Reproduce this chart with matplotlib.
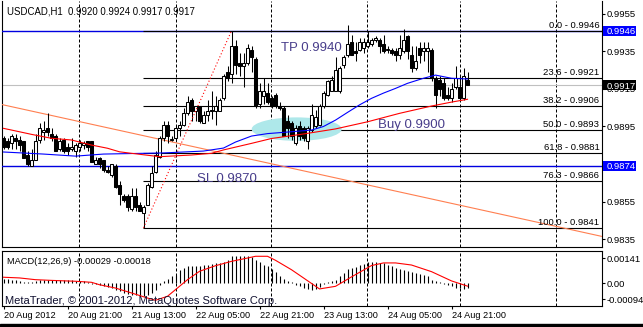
import numpy as np
import matplotlib.pyplot as plt
from matplotlib.patches import Ellipse, Rectangle

plt.rcParams['font.family'] = ['Liberation Sans', 'DejaVu Sans']

# USDCAD H1 candles, bar 0 = 20 Aug 2012 05:00
opens = [0.9889, 0.9887, 0.9886, 0.9889, 0.9888, 0.9887, 0.9880, 0.9874, 0.9877, 0.9888,
         0.9892, 0.9894, 0.9891, 0.9890, 0.9883, 0.9888, 0.9884, 0.9883, 0.9882, 0.9884,
         0.9885, 0.9887, 0.9887, 0.9875, 0.9878, 0.9877, 0.9872, 0.9869, 0.9874, 0.9864,
         0.9858, 0.9858, 0.9851, 0.9858, 0.9853, 0.9849, 0.9853, 0.9863, 0.9871, 0.9879,
         0.9889, 0.9896, 0.9888, 0.9889, 0.9894, 0.9896, 0.9902, 0.9909, 0.9903, 0.9906,
         0.9897, 0.9901, 0.9904, 0.9903, 0.9903, 0.9910, 0.9924, 0.9923, 0.9938, 0.9929,
         0.9927, 0.9929, 0.9936, 0.9931, 0.9907, 0.9911, 0.9913, 0.9910, 0.9912, 0.9906,
         0.9905, 0.9898, 0.9897, 0.9886, 0.9895, 0.9894, 0.9887, 0.9893, 0.9895, 0.9896,
         0.9906, 0.9912, 0.9914, 0.9914, 0.9914, 0.9928, 0.9933, 0.9940, 0.9935, 0.9936,
         0.9937, 0.9938, 0.9939, 0.9941, 0.9941, 0.9939, 0.9936, 0.9936, 0.9935, 0.9933,
         0.9935, 0.9943, 0.9933, 0.9926, 0.9937, 0.9935, 0.9935, 0.9936, 0.9921, 0.9920,
         0.9918, 0.9912, 0.9910, 0.9916, 0.9916, 0.9910, 0.9920]
highs = [0.9890, 0.9889, 0.9891, 0.9891, 0.9890, 0.9887, 0.9882, 0.9883, 0.9891, 0.9897,
         0.9898, 0.9902, 0.9894, 0.9891, 0.9889, 0.9889, 0.9886, 0.9889, 0.9886, 0.9888,
         0.9887, 0.9887, 0.9887, 0.9879, 0.9879, 0.9877, 0.9874, 0.9875, 0.9875, 0.9866,
         0.9859, 0.9859, 0.9862, 0.9862, 0.9855, 0.9853, 0.9865, 0.9874, 0.9882, 0.9890,
         0.9898, 0.9898, 0.9890, 0.9896, 0.9898, 0.9905, 0.9911, 0.9910, 0.9906, 0.9906,
         0.9903, 0.9909, 0.9914, 0.9911, 0.9910, 0.9923, 0.9927, 0.9946, 0.9941, 0.9934,
         0.9934, 0.9939, 0.9938, 0.9932, 0.9918, 0.9921, 0.9918, 0.9911, 0.9913, 0.9908,
         0.9906, 0.9901, 0.9898, 0.9896, 0.9898, 0.9895, 0.9895, 0.9907, 0.9904, 0.9907,
         0.9914, 0.9920, 0.9922, 0.9932, 0.9927, 0.9933, 0.9949, 0.9944, 0.9940, 0.9942,
         0.9942, 0.9946, 0.9942, 0.9943, 0.9942, 0.9944, 0.9938, 0.9937, 0.9937, 0.9944,
         0.9947, 0.9944, 0.9938, 0.9938, 0.9940, 0.9940, 0.9940, 0.9937, 0.9922, 0.9922,
         0.9921, 0.9916, 0.9918, 0.9927, 0.9922, 0.9926, 0.9924]
lows = [0.9883, 0.9883, 0.9883, 0.9883, 0.9882, 0.9878, 0.9874, 0.9874, 0.9877, 0.9886,
        0.9888, 0.9890, 0.9887, 0.9882, 0.9882, 0.9881, 0.9880, 0.9882, 0.9879, 0.9882,
        0.9883, 0.9882, 0.9876, 0.9875, 0.9873, 0.9871, 0.9870, 0.9868, 0.9862, 0.9853,
        0.9855, 0.9850, 0.9850, 0.9850, 0.9850, 0.9841, 0.9853, 0.9862, 0.9870, 0.9878,
        0.9887, 0.9886, 0.9887, 0.9888, 0.9890, 0.9895, 0.9901, 0.9898, 0.9898, 0.9897,
        0.9897, 0.9898, 0.9899, 0.9896, 0.9903, 0.9909, 0.9919, 0.9918, 0.9923, 0.9922,
        0.9916, 0.9928, 0.9924, 0.9905, 0.9905, 0.9907, 0.9907, 0.9905, 0.9905, 0.9904,
        0.9890, 0.9889, 0.9888, 0.9885, 0.9888, 0.9887, 0.9883, 0.9892, 0.9894, 0.9895,
        0.9905, 0.9911, 0.9914, 0.9914, 0.9913, 0.9926, 0.9932, 0.9933, 0.9930, 0.9935,
        0.9934, 0.9937, 0.9938, 0.9940, 0.9934, 0.9934, 0.9934, 0.9933, 0.9930, 0.9931,
        0.9934, 0.9931, 0.9924, 0.9925, 0.9929, 0.9930, 0.9924, 0.9919, 0.9905, 0.9911,
        0.9909, 0.9909, 0.9908, 0.9915, 0.9909, 0.9909, 0.9917]
closes = [0.9884, 0.9884, 0.9890, 0.9887, 0.9885, 0.9878, 0.9875, 0.9877, 0.9887, 0.9894,
          0.9893, 0.9892, 0.9889, 0.9882, 0.9887, 0.9882, 0.9882, 0.9884, 0.9885, 0.9886,
          0.9886, 0.9884, 0.9876, 0.9877, 0.9875, 0.9872, 0.9871, 0.9875, 0.9863, 0.9859,
          0.9856, 0.9852, 0.9858, 0.9852, 0.9850, 0.9852, 0.9864, 0.9870, 0.9880, 0.9889,
          0.9896, 0.9890, 0.9888, 0.9894, 0.9896, 0.9902, 0.9908, 0.9903, 0.9906, 0.9898,
          0.9901, 0.9903, 0.9903, 0.9906, 0.9909, 0.9922, 0.9921, 0.9938, 0.9928, 0.9927,
          0.9929, 0.9937, 0.9932, 0.9906, 0.9914, 0.9914, 0.9908, 0.9906, 0.9906, 0.9905,
          0.9890, 0.9894, 0.9890, 0.9894, 0.9890, 0.9889, 0.9894, 0.9901, 0.9900, 0.9906,
          0.9913, 0.9919, 0.9920, 0.9925, 0.9926, 0.9932, 0.9939, 0.9933, 0.9934, 0.9940,
          0.9940, 0.9940, 0.9941, 0.9942, 0.9938, 0.9935, 0.9936, 0.9934, 0.9933, 0.9937,
          0.9941, 0.9935, 0.9926, 0.9930, 0.9933, 0.9937, 0.9937, 0.9921, 0.9912, 0.9915,
          0.9910, 0.9910, 0.9915, 0.9921, 0.9910, 0.9922, 0.9917]

ma_blue_bars = [0, 10, 18, 25, 40, 50, 55, 58, 62, 66, 72, 77, 80, 83, 86, 89, 92, 95, 98, 101, 105, 108, 112, 116]
ma_blue = [0.98814, 0.98803, 0.98792, 0.98803, 0.98809, 0.98819, 0.98835, 0.98867, 0.98899, 0.98912,
           0.98922, 0.98931, 0.98950, 0.98984, 0.99025, 0.99065, 0.99100, 0.99128, 0.99153, 0.99180,
           0.99207, 0.99224, 0.99207, 0.99203]
ma_red_bars = [0, 2, 7, 12, 17, 22, 26, 29, 32, 39, 47, 52, 55, 62, 67, 75, 83, 91, 99, 107, 112, 116]
ma_red = [0.98940, 0.98931, 0.98908, 0.98887, 0.98878, 0.98851, 0.98834, 0.98815, 0.98807, 0.98789,
          0.98798, 0.98807, 0.98825, 0.98860, 0.98886, 0.98910, 0.98937, 0.98975, 0.99020, 0.99059,
          0.99080, 0.99095]

# fibo retracement from bar 35 low to bar 57 high
fib_ratios = ['0.0', '23.6', '38.2', '50.0', '61.8', '76.3', '100.0']
fib_prices = [0.9946, 0.9921, 0.9906, 0.9893, 0.9881, 0.9866, 0.9841]
fib_low_bar, fib_high_bar = 35, 57

trend_bars = [0, 140]
trend_prices = [0.99065, 0.98409]

tp_line = 0.9946
sl_line = 0.9874
bid = 0.9917

# MACD(12,26,9)
macd_hist = [0.00023, 0.00023, 0.00019, 0.00015, 0.00010, 0.00006, 0.00004, 0.00004, 0.00010, 0.00015,
             0.00019, 0.00019, 0.00019, 0.00019, 0.00015, 0.00015, 0.00015, 0.00015, 0.00013, 0.00010,
             0.00010, 0.00008, -0.00004, -0.00008, -0.00011, -0.00015, -0.00023, -0.00029, -0.00038, -0.00048,
             -0.00057, -0.00063, -0.00067, -0.00071, -0.00076, -0.00076, -0.00071, -0.00057, -0.00038, -0.00010,
             0.00010, 0.00023, 0.00038, 0.00048, 0.00073, 0.00086, 0.00096, 0.00096, 0.00099, 0.00099,
             0.00103, 0.00105, 0.00109, 0.00115, 0.00115, 0.00118, 0.00134, 0.00153, 0.00157, 0.00157,
             0.00157, 0.00157, 0.00149, 0.00134, 0.00118, 0.00105, 0.00096, 0.00080, 0.00061, 0.00042,
             0.00023, 0.00013, 0.00004, -0.00010, -0.00019, -0.00029, -0.00034, -0.00038, -0.00032, -0.00023,
             -0.00006, 0.00006, 0.00011, 0.00019, 0.00038, 0.00057, 0.00080, 0.00086, 0.00092, 0.00105,
             0.00111, 0.00120, 0.00118, 0.00118, 0.00115, 0.00115, 0.00105, 0.00096, 0.00086, 0.00080,
             0.00073, 0.00067, 0.00061, 0.00057, 0.00052, 0.00046, 0.00038, 0.00019, 0.00010, 0.00004,
             -0.00006, -0.00011, -0.00019, -0.00027, -0.00031, -0.00032, -0.00029]
signal_bars = [0, 4, 8, 12, 18, 22, 24, 28, 32, 36, 38, 41, 43, 46, 49, 53, 57, 61, 63, 66, 68, 72, 75,
               79, 83, 87, 92, 95, 98, 102, 107, 112, 116]
signal = [0.00033, 0.00029, 0.00019, 0.00015, 0.00010, 0.00004, -0.00010, -0.00029, -0.00057, -0.00086,
          -0.00099, -0.00076, -0.00038, 0.00019, 0.00067, 0.00099, 0.00124, 0.00143, 0.00153, 0.00153,
          0.00130, 0.00076, 0.00029, -0.00034, -0.00019, 0.00035, 0.00100, 0.00115, 0.00115, 0.00103,
          0.00065, 0.00012, -0.00018]

time_ticks = [0, 16, 32, 48, 64, 80, 96, 112]
time_labels = ['20 Aug 2012', '20 Aug 21:00', '21 Aug 13:00', '22 Aug 05:00',
               '22 Aug 21:00', '23 Aug 13:00', '24 Aug 05:00', '24 Aug 21:00']
price_ticks = [0.9955, 0.9935, 0.9915, 0.9895, 0.9875, 0.9855, 0.9835]
macd_ticks = [0.00141, 0.0, -0.00094]
macd_labels = ['0.00141', '0.00', '-0.00094']
grid_x = [18.9, 43.05, 66.9, 90.95, 114.0, 138.05]

W, H = 643, 327
fig = plt.figure(figsize=(W / 100, H / 100), dpi=100)


def px_box(l, t, r, b):
    return [l / W, 1 - b / H, (r - l) / W, (b - t) / H]


def fig_text(xp, yp, s, **kw):
    fig.text(xp / W, 1 - yp / H, s, va='baseline', **kw)


ax = fig.add_axes(px_box(2, 1, 601.7, 246.7))
axm = fig.add_axes(px_box(2, 250.7, 601.7, 305.7), sharex=ax)
ax.set_xlim(-0.375, 149.55)
ax.set_ylim(0.983092, 0.996189)
axm.set_ylim(-0.0013, 0.00185)

for a in (ax, axm):
    for s in a.spines.values():
        s.set_color('black')
        s.set_linewidth(0.8)
    for g in grid_x:
        a.axvline(g, color='black', lw=0.72, ls=(0, (3, 2)), zorder=1)
ax.spines['top'].set_visible(False)

# candles
x = np.arange(len(opens))
o, h, l, c = map(np.array, (opens, highs, lows, closes))
ax.vlines(x, l, h, color='black', lw=0.75, zorder=5)
body = np.maximum(np.abs(c - o), 0.000012)
ax.bar(x, body, bottom=np.minimum(o, c), width=0.55,
       color=np.where(c >= o, 'white', 'black'), edgecolor='black', linewidth=0.75, zorder=6)

# horizontal levels
ax.axhline(bid, color='#c0c0c0', lw=0.8, zorder=2)
ax.axhline(tp_line, color='#0000e0', lw=1.0, zorder=3)
ax.axhline(sl_line, color='#0000e0', lw=1.0, zorder=3)
ax.hlines(fib_prices, fib_low_bar - 0.05, 150, color='black', lw=0.8, zorder=3)
for r, p in zip(fib_ratios, fib_prices):
    ax.annotate(f'{r} - {p:.4f}', xy=(0.996, p), xycoords=ax.get_yaxis_transform(),
                xytext=(0, 2.3), textcoords='offset points', ha='right', va='baseline',
                fontsize=6.8, color='black', zorder=8)
ax.plot([fib_low_bar, fib_high_bar], [lows[fib_low_bar], highs[fib_high_bar]],
        color='red', lw=0.8, ls=(0, (1, 2)), zorder=7)
ax.axline((trend_bars[0], trend_prices[0]), (trend_bars[1], trend_prices[1]),
          color='#ff7f50', lw=0.8, zorder=3)

ax.add_patch(Ellipse((73.3, 0.98936), 22.5, 0.00125, facecolor='#aee8ea', edgecolor='none', zorder=4))

ax.plot(ma_blue_bars, ma_blue, color='#0000ff', lw=0.8, zorder=7)
ax.plot(ma_red_bars, ma_red, color='#ff0000', lw=0.8, zorder=7)

txt_col = '#483d8b'
ax.text(69.4, 0.99355, 'TP 0.9940', color=txt_col, fontsize=9.5, va='baseline', zorder=9)
ax.text(93.7, 0.98940, 'Buy 0.9900', color=txt_col, fontsize=9.5, va='baseline', zorder=9)
ax.text(48.3, 0.98656, 'SL 0.9870', color=txt_col, fontsize=9.5, va='baseline', zorder=9)

# price axis
ax.yaxis.tick_right()
ax.set_yticks(price_ticks)
ax.set_yticklabels([f'{p:.4f}' for p in price_ticks])
ax.tick_params(axis='y', length=2.2, width=0.8, pad=1.2, labelsize=6.8)
ax.tick_params(axis='x', bottom=False, labelbottom=False)
for p, col in [(tp_line, '#0000ff'), (bid, 'black'), (sl_line, '#0000ff')]:
    ax.add_patch(Rectangle((1.0017, p - 0.000253), 0.0555, 0.000506, transform=ax.get_yaxis_transform(),
                           facecolor=col, edgecolor='none', clip_on=False, zorder=10))
    ax.text(1.0085, p, f'{p:.4f}', transform=ax.get_yaxis_transform(), ha='left', va='center_baseline',
            color='white', fontsize=6.8, clip_on=False, zorder=11)

# MACD window
axm.vlines(x, 0, macd_hist, color='black', lw=0.8, zorder=3)
axm.plot(signal_bars, signal, color='red', lw=0.8, zorder=4)
axm.yaxis.tick_right()
axm.set_yticks(macd_ticks)
axm.set_yticklabels(macd_labels)
axm.tick_params(axis='y', length=2.2, width=0.8, pad=1.2, labelsize=6.8)
axm.set_xticks(time_ticks)
axm.set_xticklabels(time_labels, ha='left')
axm.tick_params(axis='x', length=2.5, width=0.8, pad=1.5, labelsize=6.6)

fig_text(7.3, 14.7, 'USDCAD,H1  0.9920 0.9924 0.9917 0.9917', fontsize=6.9)
fig_text(7.3, 264, 'MACD(12,26,9) -0.00029 -0.00018', fontsize=6.7)
fig_text(5, 304.5, 'MetaTrader, \u00a9 2001-2012, MetaQuotes Software Corp.', fontsize=8, color='#101030')
fig.add_artist(Rectangle((0, 0), 1, 3 / H, transform=fig.transFigure, color='black'))

fig.savefig('out.png', dpi=100)
